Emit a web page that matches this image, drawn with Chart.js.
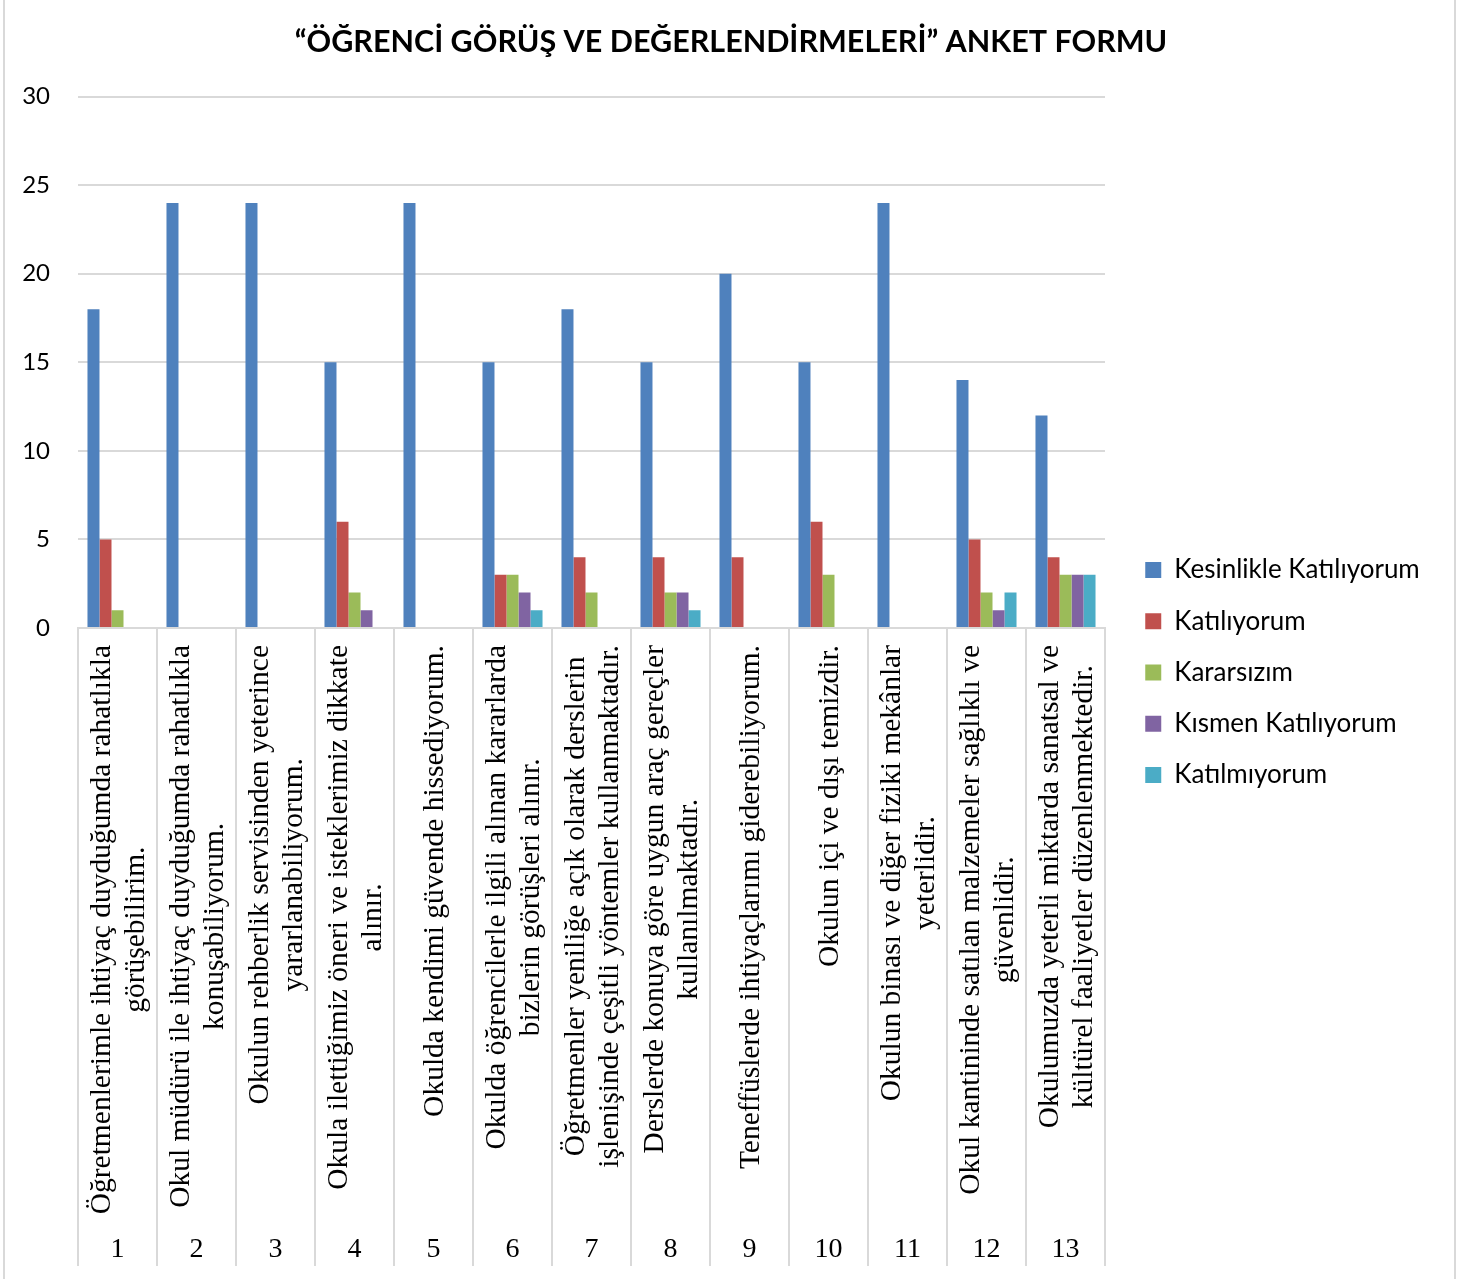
<!DOCTYPE html>
<html>
<head>
<meta charset="utf-8">
<script src="https://cdn.jsdelivr.net/npm/chart.js@4.4.1/dist/chart.umd.min.js"></script>
<style>
  body { margin: 0; background: #fff; }
  #kutu { position: relative; width: 1462px; height: 1279px; }
  #cerceve { position: absolute; left: 3px; top: -4px; width: 1453px; height: 1290px;
    border: 2px solid #d9d9d9; box-sizing: border-box; pointer-events: none; }
</style>
</head>
<body>
<div id="kutu">
  <canvas id="grafik" width="1462" height="1279"></canvas>
  <div id="cerceve"></div>
</div>
<script>
// veriler
var numaralar = ['1', '2', '3', '4', '5', '6', '7', '8', '9', '10', '11', '12', '13']
var sorular = [
    ['Öğretmenlerimle ihtiyaç duyduğumda rahatlıkla', 'görüşebilirim.'],
    ['Okul müdürü ile ihtiyaç duyduğumda rahatlıkla', 'konuşabiliyorum.'],
    ['Okulun rehberlik servisinden yeterince', 'yararlanabiliyorum.'],
    ['Okula ilettiğimiz öneri ve isteklerimiz dikkate', 'alınır.'],
    ['Okulda kendimi güvende hissediyorum.'],
    ['Okulda öğrencilerle ilgili alınan kararlarda', 'bizlerin görüşleri alınır.'],
    ['Öğretmenler yeniliğe açık olarak derslerin', 'işlenişinde çeşitli yöntemler kullanmaktadır.'],
    ['Derslerde konuya göre uygun araç gereçler', 'kullanılmaktadır.'],
    ['Teneffüslerde ihtiyaçlarımı giderebiliyorum.'],
    ['Okulun içi ve dışı temizdir.'],
    ['Okulun binası ve diğer fiziki mekânlar', 'yeterlidir.'],
    ['Okul kantininde satılan malzemeler sağlıklı ve', 'güvenlidir.'],
    ['Okulumuzda yeterli miktarda sanatsal ve', 'kültürel faaliyetler düzenlenmektedir.']
]
var kesinlikle = [18, 24, 24, 15, 24, 15, 18, 15, 20, 15, 24, 14, 12]
var katiliyorum = [5, 0, 0, 6, 0, 3, 4, 4, 4, 6, 0, 5, 4]
var kararsizim = [1, 0, 0, 2, 0, 3, 2, 2, 0, 3, 0, 2, 3]
var kismen = [0, 0, 0, 1, 0, 2, 0, 2, 0, 0, 0, 1, 3]
var katilmiyorum = [0, 0, 0, 0, 0, 1, 0, 1, 0, 0, 0, 2, 3]
var seri_adlari = ['Kesinlikle Katılıyorum', 'Katılıyorum', 'Kararsızım', 'Kısmen Katılıyorum', 'Katılmıyorum']
var renkler = ['#4f81bd', '#c0504d', '#9bbb59', '#8064a2', '#4bacc6']
var baslik = '“ÖĞRENCİ GÖRÜŞ VE DEĞERLENDİRMELERİ” ANKET FORMU'

var seriler = [kesinlikle, katiliyorum, kararsizim, kismen, katilmiyorum]

// soru metinleri dik olarak, eksenin altina
var soru_yazilari = {
    id: 'soru_yazilari',
    afterDraw: function (chart) {
        var ctx = chart.ctx
        var xs = chart.scales.x
        ctx.save()
        ctx.font = '29.5px "Liberation Serif"'
        ctx.fillStyle = '#000'
        ctx.textAlign = 'center'
        ctx.textBaseline = 'middle'
        sorular.forEach(function (satirlar, i) {
            var x = xs.getPixelForValue(i)
            var en_uzun = 0
            satirlar.forEach(function (s) { en_uzun = Math.max(en_uzun, ctx.measureText(s).width) })
            ctx.save()
            ctx.translate(x + 2, chart.chartArea.bottom + 17)
            ctx.rotate(-Math.PI / 2)
            satirlar.forEach(function (s, j) {
                ctx.fillText(s, -en_uzun / 2, (j - (satirlar.length - 1) / 2) * 34)
            })
            ctx.restore()
        })
        ctx.restore()
    }
}

// lejanti sabit genislikte tut
var lejant_genislik = {
    id: 'lejant_genislik',
    beforeLayout: function (chart) {
        var lj = chart.legend
        if (lj && !lj.yamali) {
            var eski_fit = lj.fit
            lj.fit = function () {
                eski_fit.call(this)
                if (this.options.display) this.width = 342
            }
            lj.yamali = true
        }
    }
}

new Chart(document.getElementById('grafik'), {
    type: 'bar',
    data: {
        labels: numaralar,
        datasets: seriler.map(function (d, i) {
            return {
                label: seri_adlari[i],
                data: d,
                backgroundColor: renkler[i],
                borderWidth: 0,
                categoryPercentage: 0.76,
                barPercentage: 1
            }
        })
    },
    options: {
        responsive: false,
        animation: false,
        devicePixelRatio: 1,
        layout: { padding: 0 },
        plugins: {
            title: {
                display: true,
                text: baslik,
                color: '#000',
                font: { family: 'Lato', size: 30.5, weight: 'bold' },
                padding: { top: 24, bottom: 36 }
            },
            legend: {
                position: 'right',
                title: { display: true, text: ' ', font: { size: 10 }, padding: { top: 27, bottom: 27 } },
                labels: {
                    color: '#000',
                    font: { family: 'Lato', size: 26 },
                    boxWidth: 16,
                    boxHeight: 16,
                    padding: 25.25
                }
            },
            tooltip: { enabled: false }
        },
        scales: {
            x: {
                grid: { offset: true, drawOnChartArea: false, drawTicks: true, tickLength: 638, color: '#d9d9d9', lineWidth: 2 },
                border: { color: '#d9d9d9', width: 2 },
                ticks: { color: '#000', font: { family: 'Liberation Serif', size: 28 }, padding: -33, maxRotation: 0, autoSkip: false },
                afterFit: function (s) { s.height = 651 }
            },
            y: {
                min: 0, max: 30,
                ticks: { stepSize: 5, color: '#000', font: { family: 'Lato', size: 24 }, padding: 28 },
                grid: { color: '#d9d9d9', lineWidth: 2, drawTicks: false },
                border: { display: false },
                afterFit: function (s) { s.width = 78 }
            },
            bos: {
                // lejant ile cizim alani arasindaki bosluk
                type: 'linear', position: 'right', display: true,
                ticks: { display: false }, grid: { display: false }, border: { display: false },
                afterFit: function (s) { s.width = 15 }
            }
        }
    },
    plugins: [soru_yazilari, lejant_genislik]
})
</script>
</body>
</html>
